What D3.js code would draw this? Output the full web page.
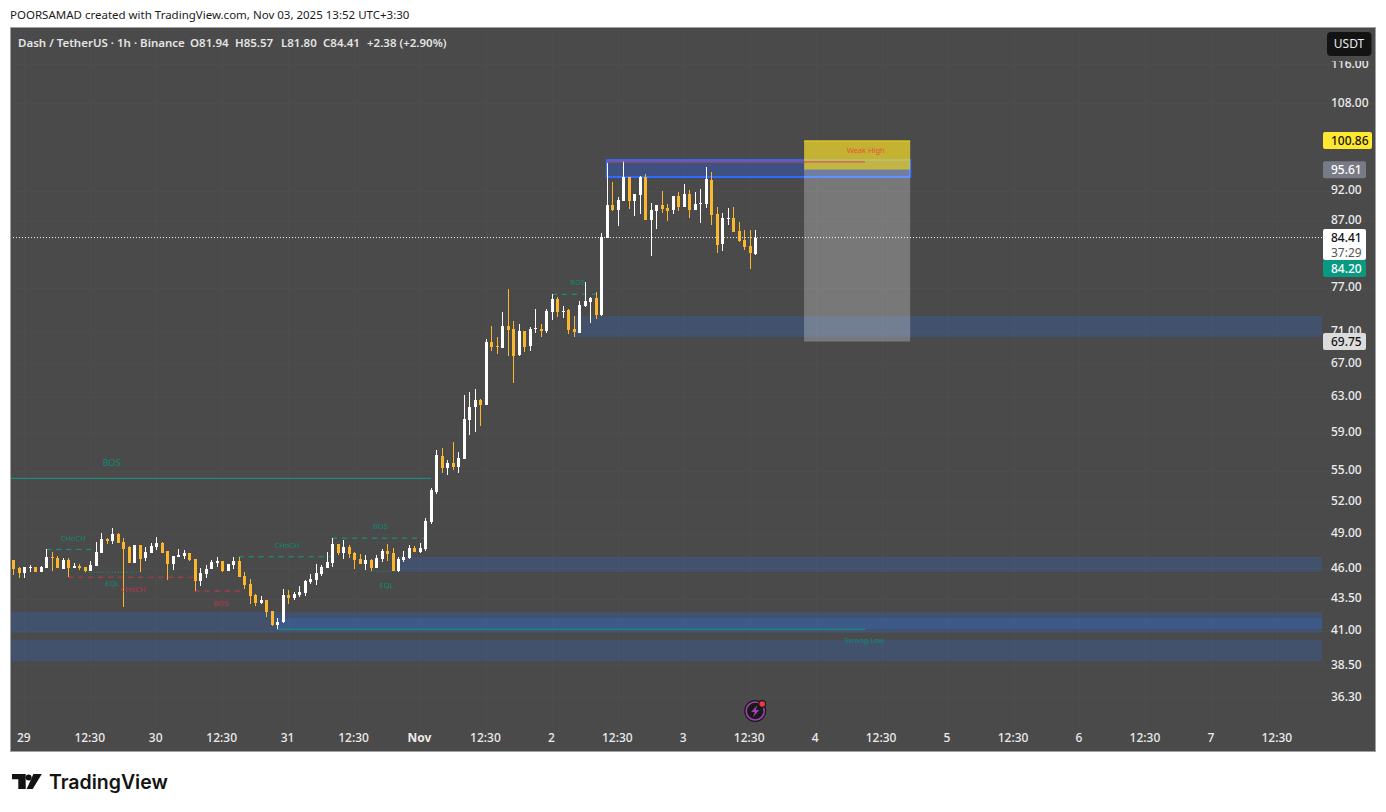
<!DOCTYPE html>
<html lang="en">
  <head>
    <meta charset="UTF-8" />
    <title>Dash / TetherUS 1h</title>
    <style>
      html, body { margin: 0; padding: 0; background: #fff; overflow: hidden; }
      svg { display: block; }
      text { font-family: 'Noto Sans', sans-serif; }
      .tick text { font-family: 'Noto Sans', sans-serif; font-size: 12px; font-weight: 500; fill: #ececec; }
    </style>
  </head>
  <body>
    <script src="https://d3js.org/d3.v7.min.js"></script>
    <script>
      // Candles, one per hour
      const opens = [
        46.73, 46.05, 45.63, 46.05, 46.14, 45.71, 46.05, 46.99, 46.90, 45.97,
        46.73, 46.05, 46.22, 46.14, 45.80, 46.22, 47.33, 48.56, 48.38, 49.01,
        48.29, 47.85, 46.48, 48.03, 46.90, 47.33, 47.85, 48.21, 47.50, 46.39,
        46.99, 47.07, 47.33, 46.82, 44.96, 45.54, 45.97, 46.48, 46.65, 45.80,
        46.31, 46.65, 45.38, 44.72, 43.83, 43.18, 43.42, 42.55, 41.48, 41.71,
        43.83, 43.58, 43.83, 43.99, 44.88, 45.04, 45.54, 46.05, 46.48, 48.12,
        47.33, 47.85, 47.33, 46.82, 46.39, 46.73, 46.05, 46.82, 47.50, 47.33,
        45.80, 46.73, 46.90, 47.77, 47.42, 47.68, 50.10, 52.94, 56.54, 55.31,
        55.82, 55.42, 56.23, 60.41, 61.86, 62.66, 62.09, 69.69, 69.19, 68.93,
        71.77, 71.38, 68.05, 71.12, 69.19, 71.38, 71.38, 71.12, 73.64, 75.42,
        73.64, 73.91, 71.38, 70.86, 74.46, 75.00, 75.56, 73.24, 84.34, 89.61,
        88.79, 90.27, 94.33, 90.27, 91.27, 94.33, 87.17, 88.63, 89.61, 89.12,
        88.79, 91.10, 89.28, 91.43, 88.79, 89.77, 89.77, 93.81, 88.14, 83.43,
        87.33, 87.49, 85.43, 84.03, 83.12, 81.94,
      ];
      const highs = [
        46.73, 46.14, 46.14, 46.31, 46.14, 46.22, 47.68, 47.42, 47.07, 46.90,
        46.90, 46.48, 46.39, 46.14, 46.65, 48.29, 49.10, 48.65, 49.55, 49.10,
        48.65, 47.94, 48.03, 48.03, 47.85, 48.21, 48.74, 48.29, 47.50, 47.07,
        47.68, 47.59, 47.33, 46.82, 46.05, 46.31, 46.73, 46.99, 46.65, 46.39,
        46.99, 46.99, 45.71, 45.13, 43.91, 43.75, 43.42, 42.55, 42.01, 44.31,
        44.23, 44.07, 44.55, 45.04, 45.54, 46.39, 46.31, 47.42, 48.65, 48.12,
        48.47, 48.03, 47.42, 47.25, 47.16, 46.82, 47.16, 47.68, 48.12, 47.77,
        46.99, 47.50, 48.03, 47.94, 48.21, 50.47, 53.33, 57.17, 57.38, 56.13,
        58.02, 56.96, 63.24, 63.59, 63.94, 62.78, 70.08, 71.77, 70.34, 73.64,
        76.81, 72.44, 72.04, 71.12, 71.64, 74.05, 72.04, 74.05, 76.11, 75.70,
        74.46, 74.05, 73.10, 75.14, 77.81, 75.70, 76.39, 85.12, 96.78, 93.47,
        90.93, 97.13, 94.33, 91.43, 94.50, 94.85, 89.94, 89.61, 91.93, 89.77,
        91.10, 91.77, 93.13, 92.10, 91.77, 92.27, 96.07, 95.19, 89.28, 88.30,
        89.12, 89.28, 86.85, 85.59, 85.59, 85.57,
      ];
      const lows = [
        45.46, 45.21, 45.21, 45.71, 45.71, 45.71, 46.05, 45.80, 46.05, 45.97,
        45.29, 46.05, 45.88, 45.71, 45.80, 46.22, 47.33, 48.12, 48.12, 48.21,
        42.87, 46.48, 46.48, 45.71, 46.65, 47.33, 47.59, 47.33, 45.04, 45.88,
        46.99, 46.82, 46.65, 44.15, 44.55, 45.21, 45.97, 46.14, 45.71, 45.80,
        45.97, 45.29, 44.31, 43.11, 42.95, 43.11, 42.09, 41.40, 41.18, 41.63,
        43.11, 43.42, 43.66, 43.75, 44.72, 44.63, 45.38, 46.05, 46.14, 47.16,
        46.82, 46.90, 45.97, 46.39, 45.88, 45.80, 46.05, 46.56, 46.65, 45.80,
        45.71, 46.56, 46.82, 47.42, 47.33, 47.50, 49.92, 52.74, 54.81, 54.61,
        55.11, 54.81, 56.23, 58.77, 59.09, 59.75, 62.09, 68.55, 68.19, 68.93,
        67.93, 64.64, 67.93, 68.43, 68.55, 70.86, 70.34, 70.86, 72.57, 72.97,
        72.84, 70.73, 70.34, 70.86, 74.32, 72.17, 72.70, 73.10, 84.34, 88.63,
        86.22, 90.27, 88.95, 87.82, 88.14, 87.17, 81.61, 85.75, 88.30, 87.01,
        88.14, 88.63, 89.28, 87.49, 88.79, 86.70, 89.12, 86.38, 82.06, 82.36,
        86.38, 85.28, 83.73, 82.51, 79.68, 81.80,
      ];
      const closes = [
        45.97, 45.63, 46.14, 46.14, 45.71, 46.14, 46.99, 46.90, 46.05, 46.73,
        46.05, 46.22, 46.05, 45.80, 46.31, 47.42, 48.56, 48.38, 49.01, 48.21,
        47.68, 46.48, 48.03, 46.82, 47.42, 47.94, 48.21, 47.33, 46.39, 47.07,
        47.16, 47.33, 46.73, 44.96, 45.63, 45.97, 46.56, 46.65, 45.80, 46.39,
        46.65, 45.29, 44.63, 43.75, 43.18, 43.42, 42.47, 41.48, 41.71, 43.83,
        43.58, 43.91, 44.07, 44.96, 45.13, 45.63, 46.14, 46.56, 48.12, 47.33,
        47.85, 47.25, 46.73, 46.39, 46.73, 46.05, 46.90, 47.50, 47.25, 45.80,
        46.82, 46.99, 47.77, 47.42, 47.77, 50.19, 53.13, 56.65, 55.31, 55.82,
        55.42, 56.34, 60.52, 61.86, 62.66, 62.09, 69.69, 69.06, 69.06, 71.77,
        71.25, 67.93, 71.12, 69.06, 71.38, 71.51, 71.12, 73.77, 75.42, 73.64,
        73.77, 71.25, 70.99, 74.59, 75.14, 75.56, 73.24, 84.50, 89.61, 88.79,
        90.43, 94.33, 90.27, 91.43, 94.33, 87.17, 88.79, 89.61, 88.95, 88.63,
        91.10, 89.28, 91.43, 88.79, 89.77, 89.94, 93.98, 87.98, 83.27, 87.49,
        87.49, 85.28, 83.88, 82.97, 82.06, 84.41,
      ];

      // Axis ticks
      const priceTicks = [116, 108, 92, 87, 77, 71, 67, 63, 59, 55, 52, 49, 46, 43.5, 41, 38.5, 36.3];
      const timeTickBars = [2, 14, 26, 38, 50, 62, 74, 86, 98, 110, 122, 134, 146, 158, 170, 182, 194, 206, 218, 230];
      const timeTickLabels = ['29', '12:30', '30', '12:30', '31', '12:30', 'Nov', '12:30', '2', '12:30', '3', '12:30', '4', '12:30', '5', '12:30', '6', '12:30', '7', '12:30'];

      // Supply and demand zones: [bar from, bar to, price top, price bottom]
      const zones = [
        [102.2, 240, 73.1, 70.34],
        [70.4, 240, 46.99, 45.71],
        [-3, 240, 42.47, 40.87],
        [48, 240, 42.01, 41.14],
        [-3, 240, 40.35, 38.79],
      ];
      const topZone = [108, 163.2, 97.31, 94.33];

      // Market structure lines: [bar from, bar to, price]
      const bosLines = [[-3, 76, 54.26]];
      const greenDashes = [[6, 15, 47.63], [41, 58, 46.99], [58, 75, 48.62], [98, 107, 76.07]];
      const greenDots = [[13, 23, 45.67], [65, 70, 45.75]];
      const redDashes = [[10, 33, 45.26], [33, 42, 44.12]];
      const strongLow = [48, 155, 41.14];
      const weakHigh = [108, 155, 96.98];

      // Structure labels: [text, bar, price, colour]
      const teal = '#0b8a74';
      const red = '#b8384a';
      const structureLabels = [
        ['CHoCH', 10.9, 48.68, teal],
        ['EQL', 18, 44.75, teal],
        ['CHoCH', 21.8, 44.27, red],
        ['BOS', 37.8, 43.18, red],
        ['CHoCH', 49.8, 48.06, teal],
        ['BOS', 66.8, 49.68, teal],
        ['EQL', 67.9, 44.59, teal],
        ['BOS', 102.7, 77.85, teal],
        ['Strong Low', 154.9, 40.3, teal],
      ];

      // Long position tool
      const positionBars = [143.9, 163.2];
      const targetPrice = 100.86;
      const entryPrice = 95.61;
      const stopPrice = 69.75;
      const lastClose = 84.41;

      // Mostly used const
      const width = 1386;
      const height = 812;
      const plot = { left: 10, right: 1322, top: 28, bottom: 751 };
      const frameRight = 1375;

      const svg = d3.select('body').append('svg').attr('width', width).attr('height', height);

      svg.append('text')
        .text('POORSAMAD created with TradingView.com, Nov 03, 2025 13:52 UTC+3:30')
        .attr('x', 10).attr('y', 18.5)
        .attr('font-size', 11.5).attr('fill', '#1b1b1b');

      svg.append('rect')
        .attr('x', 10.5).attr('y', 27.5)
        .attr('width', frameRight - 10).attr('height', plot.bottom - 27)
        .attr('fill', '#4a4a4a').attr('stroke', '#a0a0a0');

      const x = d3.scaleLinear().domain([0, 230]).range([13.3, 1277.3]);
      const y = d3.scaleLog().domain([124, 32.84]).range([28, 752]);

      svg.append('clipPath').attr('id', 'plot-clip').append('rect')
        .attr('x', plot.left + 1).attr('y', plot.top)
        .attr('width', plot.right - plot.left - 1).attr('height', plot.bottom - plot.top);

      // Grid
      const grid = svg.append('g').attr('stroke', '#4d4d4d').attr('shape-rendering', 'crispEdges');
      grid.selectAll('.v').data(timeTickBars).join('line')
        .attr('class', 'v')
        .attr('x1', (d) => Math.round(x(d)) + 0.5).attr('x2', (d) => Math.round(x(d)) + 0.5)
        .attr('y1', plot.top).attr('y2', 726);
      grid.selectAll('.h').data(priceTicks).join('line')
        .attr('class', 'h')
        .attr('x1', plot.left + 1).attr('x2', frameRight)
        .attr('y1', (d) => Math.round(y(d)) + 0.5).attr('y2', (d) => Math.round(y(d)) + 0.5);

      const g = svg.append('g').attr('clip-path', 'url(#plot-clip)');

      // Zones
      g.selectAll('.zone').data(zones).join('rect')
        .attr('class', 'zone')
        .attr('x', (d) => x(d[0]))
        .attr('width', (d) => x(d[1]) - x(d[0]))
        .attr('y', (d) => y(d[2]))
        .attr('height', (d) => y(d[3]) - y(d[2]))
        .attr('fill', 'rgba(41,115,230,0.22)');

      g.append('rect')
        .attr('x', x(topZone[0])).attr('width', x(topZone[1]) - x(topZone[0]))
        .attr('y', y(topZone[2])).attr('height', y(topZone[3]) - y(topZone[2]))
        .attr('fill', 'rgba(41,98,255,0.3)')
        .attr('stroke', '#2f6bff').attr('stroke-width', 2);

      // Structure lines
      const hline = (data, colour, dash) =>
        g.append('g').selectAll('line').data(data).join('line')
          .attr('x1', (d) => x(d[0])).attr('x2', (d) => x(d[1]))
          .attr('y1', (d) => y(d[2])).attr('y2', (d) => y(d[2]))
          .attr('stroke', colour).attr('stroke-width', 1)
          .attr('stroke-dasharray', dash);

      hline(bosLines, '#0f9d85', null);
      hline(greenDashes, '#0f9d85', '5 5');
      hline(greenDots, '#0f9d85', '1 2');
      hline(redDashes, '#c9374a', '5 5');
      hline([strongLow], '#0f9d85', null);

      // Candles
      const bars = d3.range(opens.length);
      const isUp = (i) => closes[i] >= opens[i];
      const candleColour = (i) => (isUp(i) ? '#ffffff' : '#fbb62b');
      const candles = g.append('g').attr('shape-rendering', 'crispEdges');
      candles.selectAll('.wick').data(bars).join('rect')
        .attr('class', 'wick')
        .attr('x', (i) => Math.round(x(i)) - 0.5)
        .attr('width', 1)
        .attr('y', (i) => y(highs[i]))
        .attr('height', (i) => y(lows[i]) - y(highs[i]))
        .attr('fill', candleColour);
      candles.selectAll('.body').data(bars).join('rect')
        .attr('class', 'body')
        .attr('x', (i) => Math.round(x(i)) - 1.5)
        .attr('width', 3)
        .attr('y', (i) => y(Math.max(opens[i], closes[i])))
        .attr('height', (i) => Math.max(1, Math.abs(y(opens[i]) - y(closes[i]))))
        .attr('fill', candleColour);

      // Last price line
      g.append('line')
        .attr('x1', plot.left).attr('x2', plot.right)
        .attr('y1', y(lastClose)).attr('y2', y(lastClose))
        .attr('stroke', '#f2f2f2').attr('stroke-dasharray', '1 2');

      // Position tool, target on top of the stop area
      const posX = x(positionBars[0]);
      const posW = x(positionBars[1]) - posX;
      g.append('rect')
        .attr('x', posX).attr('width', posW)
        .attr('y', y(targetPrice)).attr('height', y(entryPrice) - y(targetPrice))
        .attr('fill', 'rgba(255,228,40,0.68)');
      g.append('line')
        .attr('x1', posX).attr('x2', posX + posW)
        .attr('y1', y(targetPrice) + 0.5).attr('y2', y(targetPrice) + 0.5)
        .attr('stroke', '#e6cd2f');
      g.append('rect')
        .attr('x', posX).attr('width', posW)
        .attr('y', y(entryPrice)).attr('height', y(stopPrice) - y(entryPrice))
        .attr('fill', 'rgba(255,255,255,0.26)');

      hline([weakHigh], '#dd4752', null);

      g.append('text')
        .text('Weak High')
        .attr('x', x(155.1)).attr('y', y(98.95))
        .attr('text-anchor', 'middle').attr('dominant-baseline', 'middle')
        .attr('font-size', 7.5).attr('fill', '#e8503f');

      // Structure labels
      g.selectAll('.lbl').data(structureLabels).join('text')
        .attr('class', 'lbl')
        .text((d) => d[0])
        .attr('x', (d) => x(d[1])).attr('y', (d) => y(d[2]))
        .attr('dy', 1)
        .attr('text-anchor', 'middle').attr('dominant-baseline', 'middle')
        .attr('font-size', 7.5).attr('fill', (d) => d[3]);

      g.append('text')
        .text('BOS')
        .attr('x', x(17.9)).attr('y', y(55.75))
        .attr('text-anchor', 'middle').attr('dominant-baseline', 'middle')
        .attr('font-size', 9).attr('fill', teal);

      // Axes
      const yAxis = svg.append('g')
        .attr('transform', `translate(${plot.right},-1)`)
        .call(d3.axisRight(y).tickValues(priceTicks).tickFormat(d3.format('.2f')).tickSize(0).tickPadding(9));
      yAxis.select('.domain').remove();

      const xAxis = svg.append('g')
        .attr('transform', 'translate(-1,728)')
        .call(d3.axisBottom(x).tickValues(timeTickBars)
          .tickFormat((d, i) => timeTickLabels[i]).tickSize(0).tickPadding(5));
      xAxis.select('.domain').remove();
      xAxis.selectAll('text').filter((d, i) => timeTickLabels[i] === 'Nov').style('font-weight', 700);

      // Price tags on the scale: [text, price, width, fill, text colour]
      const tags = [
        ['100.86', targetPrice, 49, '#ffe830', '#131313'],
        ['95.61', entryPrice, 43, '#787b86', '#ffffff'],
        ['69.75', stopPrice, 43, '#dcdcdc', '#131313'],
      ];
      const tagG = svg.append('g').attr('font-size', 12);
      tagG.selectAll('rect').data(tags).join('rect')
        .attr('x', plot.right + 1)
        .attr('y', (d) => y(d[1]) - 8.5)
        .attr('width', (d) => d[2]).attr('height', 17).attr('rx', 2)
        .attr('fill', (d) => d[3]);
      tagG.selectAll('text').data(tags).join('text')
        .text((d) => d[0])
        .attr('x', plot.right + 9)
        .attr('y', (d) => y(d[1]))
        .attr('dy', '.35em')
        .attr('font-weight', 500)
        .attr('fill', (d) => d[4]);

      // Countdown tag and the secondary last price
      tagG.append('rect').attr('x', plot.right + 1).attr('y', y(lastClose) - 8.5)
        .attr('width', 43).attr('height', 31).attr('rx', 2).attr('fill', '#ffffff');
      tagG.append('text').text('84.41').attr('x', plot.right + 9).attr('y', y(lastClose)).attr('dy', '.35em')
        .attr('font-weight', 500).attr('fill', '#131313');
      tagG.append('text').text('37:29').attr('x', plot.right + 9).attr('y', y(lastClose) + 15).attr('dy', '.35em')
        .attr('fill', '#555');
      tagG.append('rect').attr('x', plot.right + 1).attr('y', 260)
        .attr('width', 43).attr('height', 17).attr('rx', 2).attr('fill', '#089981');
      tagG.append('text').text('84.20').attr('x', plot.right + 9).attr('y', 268.5).attr('dy', '.35em')
        .attr('font-weight', 500).attr('fill', '#ffffff');

      // USDT button hides the top of the first tick
      svg.append('rect').attr('x', 1325).attr('y', 30).attr('width', 48).attr('height', 31).attr('fill', '#4a4a4a');
      svg.append('rect').attr('x', 1327).attr('y', 32).attr('width', 44.5).attr('height', 24).attr('rx', 4).attr('fill', '#131313');
      svg.append('text').text('USDT').attr('x', 1349).attr('y', 44).attr('dy', '.35em')
        .attr('text-anchor', 'middle').attr('font-size', 12).attr('fill', '#ececec');

      // Legend line
      const legend = [
        ['Dash / TetherUS · 1h · Binance', 18],
        ['O81.94', 190],
        ['H85.57', 235],
        ['L81.80', 281],
        ['C84.41', 323],
        ['+2.38 (+2.90%)', 367],
      ];
      svg.append('g').selectAll('text').data(legend).join('text')
        .text((d) => d[0])
        .attr('x', (d) => d[1]).attr('y', 46.5)
        .attr('font-size', 11.5).attr('font-weight', 600).attr('fill', '#e4e4e4');

      // Marker icon under the last candle
      const icon = svg.append('g').attr('transform', `translate(${x(135)},711)`);
      icon.append('circle').attr('r', 11).attr('fill', '#1a1a1a');
      icon.append('circle').attr('r', 9).attr('fill', 'none').attr('stroke', '#a43fb5').attr('stroke-width', 1.6);
      icon.append('path').attr('d', 'M2,-6 L-4,1 L-0.5,1 L-2,6 L4,-1 L0.5,-1 Z').attr('fill', '#a43fb5');
      icon.append('circle').attr('cx', 7).attr('cy', -7).attr('r', 4).attr('fill', '#1a1a1a');
      icon.append('circle').attr('cx', 7).attr('cy', -7).attr('r', 2.8).attr('fill', '#f23645');

      // TradingView logo
      const logo = svg.append('g').attr('fill', '#131313');
      logo.append('path').attr('d', 'M12,774 H25.7 V789 H18.3 V779.3 H12 Z');
      logo.append('circle').attr('cx', 28.6).attr('cy', 777.4).attr('r', 3);
      logo.append('path').attr('d', 'M33.4,774 H41.8 L32.7,789 H26.7 Z');
      svg.append('text').text('TradingView')
        .attr('x', 49).attr('y', 789)
        .attr('font-size', 19.5).attr('font-weight', 600).attr('fill', '#131313')
        .style('font-family', 'Inter, sans-serif');
    </script>
  </body>
</html>
